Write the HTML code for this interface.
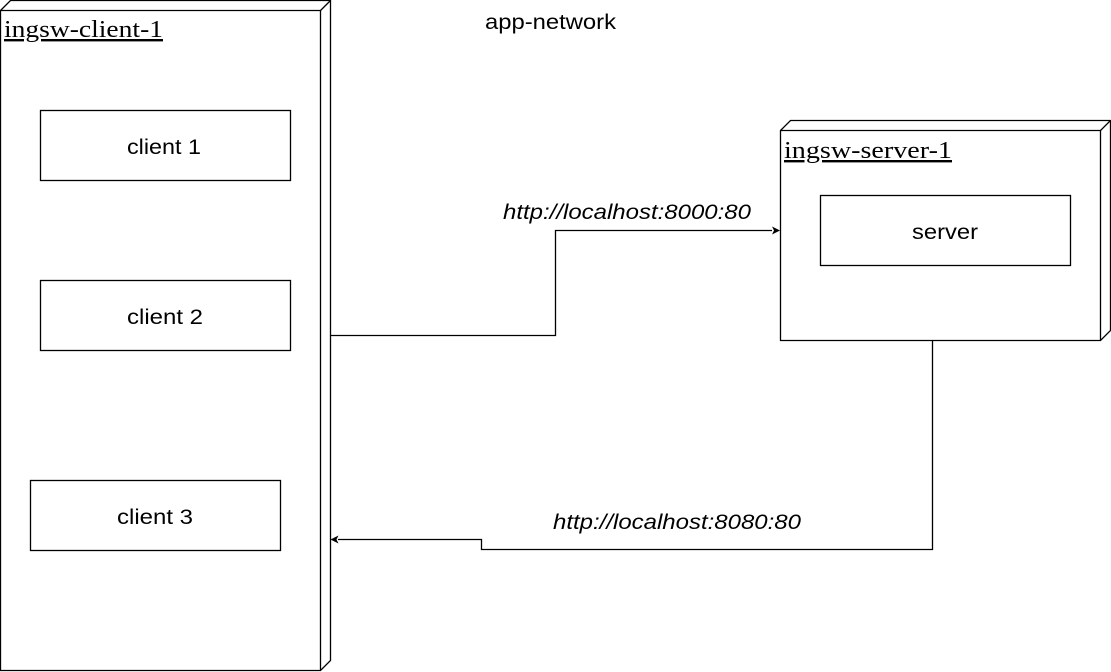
<!DOCTYPE html>
<html><head><style>body{margin:0;background:#fff}</style></head><body>
<svg width="1111" height="672" xmlns="http://www.w3.org/2000/svg" style="display:block">
<g fill="#fff" stroke="#000" stroke-width="1.3">
<path d="M0.5 10.5 L10.5 0.5 L330.5 0.5 L330.5 660.5 L320.5 670.5 L0.5 670.5 Z"/>
<path d="M0.5 10.5 L320.5 10.5 L320.5 670.5 M320.5 10.5 L330.5 0.5" fill="none"/>
<path d="M780.5 130.5 L790.5 120.5 L1110.5 120.5 L1110.5 330.5 L1100.5 340.5 L780.5 340.5 Z"/>
<path d="M780.5 130.5 L1100.5 130.5 L1100.5 340.5 M1100.5 130.5 L1110.5 120.5" fill="none"/>
<rect x="40.5" y="110.5" width="250" height="70"/>
<rect x="40.5" y="280.5" width="250" height="70"/>
<rect x="30.5" y="480.5" width="250" height="70"/>
<rect x="820.5" y="195.5" width="250" height="70"/>
<path d="M330.5 335.5 H555.5 V230.5 H772" fill="none"/>
<path d="M932.5 340.5 V549.5 H481.5 V539.5 H338" fill="none"/>
</g>
<path d="M780 230.5 L772 226.5 L774 230.5 L772 234.5 Z"/>
<path d="M330.5 539.5 L338.5 535.5 L336.5 539.5 L338.5 543.5 Z"/>
<g font-family="Liberation Serif, serif" font-size="24" text-decoration="underline" lengthAdjust="spacingAndGlyphs">
<text x="4" y="37" textLength="159" lengthAdjust="spacingAndGlyphs">ingsw-client-1</text>
<text x="784" y="158" textLength="168" lengthAdjust="spacingAndGlyphs">ingsw-server-1</text>
</g>
<g font-family="Liberation Sans, sans-serif" font-size="21">
<text x="127" y="154" textLength="74" lengthAdjust="spacingAndGlyphs">client 1</text>
<text x="127" y="324" textLength="76" lengthAdjust="spacingAndGlyphs">client 2</text>
<text x="117" y="524" textLength="76" lengthAdjust="spacingAndGlyphs">client 3</text>
<text x="912" y="239" textLength="66" lengthAdjust="spacingAndGlyphs">server</text>
<text x="485" y="29" textLength="131" lengthAdjust="spacingAndGlyphs">app-network</text>
<text x="503" y="219" font-style="italic" textLength="248" lengthAdjust="spacingAndGlyphs">http://localhost:8000:80</text>
<text x="553" y="529" font-style="italic" textLength="248" lengthAdjust="spacingAndGlyphs">http://localhost:8080:80</text>
</g>
</svg>
</body></html>
